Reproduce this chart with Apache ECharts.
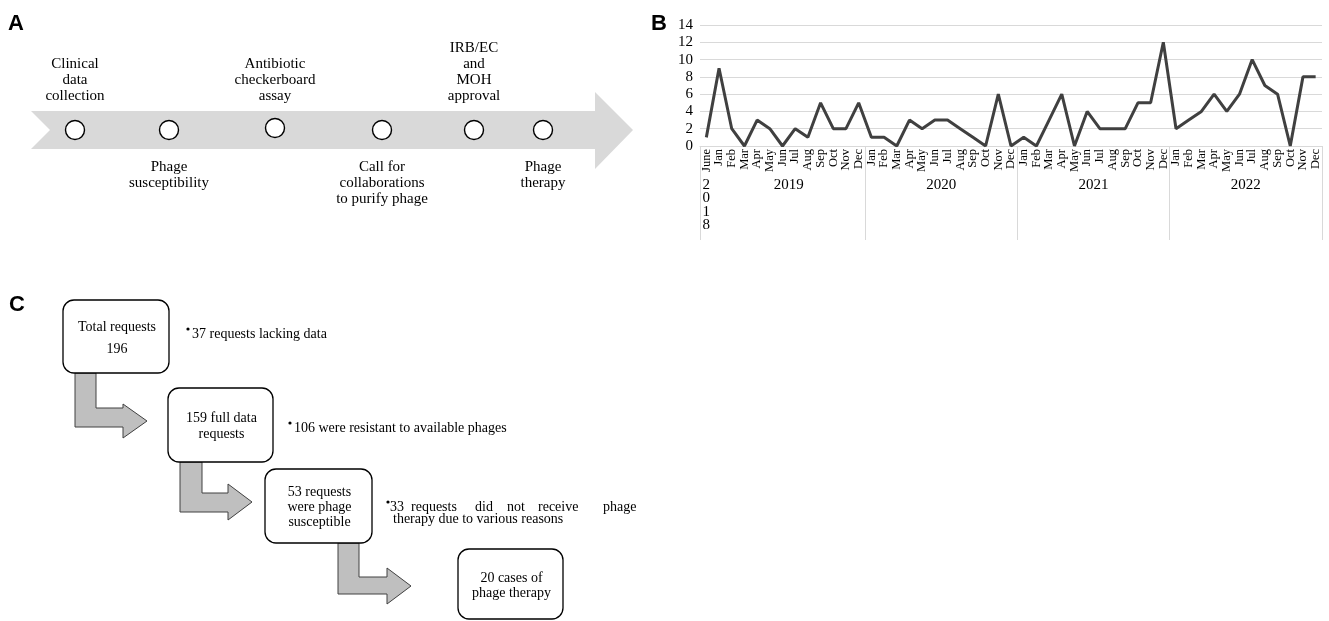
<!DOCTYPE html>
<html><head><meta charset="utf-8">
<script src="https://cdn.jsdelivr.net/npm/echarts@6/dist/echarts.min.js"></script>
<style>html,body{margin:0;padding:0;background:#fff}#c{width:1329px;height:621px}</style>
</head><body><div id="c"></div>
<script>
// ---- Data (panel B) ----
const monthLabels = ['June',
  'Jan','Feb','Mar','Apr','May','Jun','Jul','Aug','Sep','Oct','Nov','Dec',
  'Jan','Feb','Mar','Apr','May','Jun','Jul','Aug','Sep','Oct','Nov','Dec',
  'Jan','Feb','Mar','Apr','May','Jun','Jul','Aug','Sep','Oct','Nov','Dec',
  'Jan','Feb','Mar','Apr','May','Jun','Jul','Aug','Sep','Oct','Nov','Dec'];
const yearLabels = ['2018','2019','2020','2021','2022'];
const yearMonthCounts = [1, 12, 12, 12, 12];
const requests2018 = [1];
const requests2019 = [9,2,0,3,2,0,2,1,5,2,2,5];
const requests2020 = [1,1,0,3,2,3,3,2,1,0,6,0];
const requests2021 = [1,0,3,6,0,4,2,2,2,5,5,12];
const requests2022 = [2,3,4,6,4,6,10,7,6,0,8,8];
const yMax = 14, yInterval = 2;

// ---- Diagram texts (panels A and C) ----
const timelineAbove = [['Clinical','data','collection'], ['Antibiotic','checkerboard','assay'], ['IRB/EC','and','MOH','approval']];
const timelineBelow = [['Phage','susceptibility'], ['Call for','collaborations','to purify phage'], ['Phage','therapy']];
const flowBoxes = [['Total requests','196'], ['159 full data','requests'], ['53 requests','were phage','susceptible'], ['20 cases of','phage therapy']];
const flowNotes = ['37 requests lacking data', '106 were resistant to available phages'];
const flowNote3Words = ['33','requests','did','not','receive','phage'];
const flowNote3Line2 = 'therapy due to various reasons';

const requests = [].concat(requests2018, requests2019, requests2020, requests2021, requests2022);

// year group centres and boundaries in category units
const yearCenters = [], yearBounds = [-0.5];
let s = 0;
yearMonthCounts.forEach(n => { yearCenters.push(s + (n - 1) / 2); s += n; if (s > 1) yearBounds.push(s - 0.5); });

const SERIF = '"Liberation Serif","Times New Roman",serif';
const SANS = '"Liberation Sans",Arial,sans-serif';

function txt(x, y, t, size, align, font) {
  return { type: 'text', x: x, y: y, silent: true,
    style: { text: t, font: (size || 15) + 'px ' + (font || SERIF), fill: '#000',
      textAlign: align || 'center', textVerticalAlign: 'middle' } };
}

const g = [];
// panel labels
g.push({ type:'text', x: 8, y: 13, style:{ text:'A', font:'bold 22px ' + SANS, fill:'#000' }});
g.push({ type:'text', x: 651, y: 13, style:{ text:'B', font:'bold 22px ' + SANS, fill:'#000' }});
g.push({ type:'text', x: 9, y: 294, style:{ text:'C', font:'bold 22px ' + SANS, fill:'#000' }});

// Panel A arrow
g.push({ type:'polygon', silent:true, shape:{ points:[[31,111],[595,111],[595,92],[633,130],[595,169],[595,149],[31,149],[50,130]] },
  style:{ fill:'#d9d9d9' } });
const circleX = [75,169,275,382,474,543];
const circleY = [130,130,128,130,130,130];
circleX.forEach((cx,i) => g.push({ type:'circle', silent:true, shape:{ cx:cx, cy:circleY[i], r:9.5 }, style:{ fill:'#fff', stroke:'#000', lineWidth:1.4 } }));
const aboveX = [75,275,474];
timelineAbove.forEach((lines,i) => {
  const n = lines.length;
  lines.forEach((l,j) => g.push(txt(aboveX[i], 96 - (n-1-j)*16, l, 15)));
});
const belowX = [169,382,543];
timelineBelow.forEach((lines,i) => lines.forEach((l,j) => g.push(txt(belowX[i], 167 + j*16, l, 15))));

// Panel C arrows
const arrowStyle = { fill:'#bfbfbf', stroke:'#404040', lineWidth:1 };
g.push({ type:'polygon', silent:true, shape:{ points:[[75,373],[96,373],[96,408],[123,408],[123,404],[147,421],[123,438],[123,427],[75,427]] }, style: arrowStyle });
g.push({ type:'polygon', silent:true, shape:{ points:[[180,462],[202,462],[202,493],[228,493],[228,484],[252,502],[228,520],[228,512],[180,512]] }, style: arrowStyle });
g.push({ type:'polygon', silent:true, shape:{ points:[[338,543],[359,543],[359,577],[387,577],[387,568],[411,586],[387,604],[387,594],[338,594]] }, style: arrowStyle });

// Panel C boxes
const boxes = [[63,300,106,73],[168,388,105,74],[265,469,107,74],[458,549,105,70]];
const boxTextY = [[327,349],[418,434],[492,507,522],[578,593]];
boxes.forEach((b,i) => {
  g.push({ type:'rect', silent:true, shape:{ x:b[0], y:b[1], width:b[2], height:b[3], r:11 }, style:{ fill:'#fff', stroke:'#000', lineWidth:1.3 } });
  flowBoxes[i].forEach((l,j) => g.push(txt(b[0] + b[2]/2 + 1, boxTextY[i][j], l, 14)));
});
// bullet notes
function bullet(x, y) { g.push({ type:'circle', silent:true, shape:{ cx:x, cy:y, r:1.6 }, style:{ fill:'#000' } }); }
bullet(188, 329); g.push(txt(192, 334, flowNotes[0], 14, 'left'));
bullet(290, 423); g.push(txt(294, 428, flowNotes[1], 14, 'left'));
bullet(388, 502);
const w3x = [390, 411, 475, 507, 538, 603];
flowNote3Words.forEach((w,i) => g.push(txt(w3x[i], 507, w, 14, 'left')));
g.push(txt(393, 519, flowNote3Line2, 14, 'left'));

const chart = echarts.init(document.getElementById('c'), null, { renderer: 'canvas' });
chart.setOption({
  animation: false,
  backgroundColor: '#fff',
  grid: { left: 700, right: 7, top: 25, bottom: 475, containLabel: false, outerBoundsMode: 'none' },
  xAxis: [{
    type: 'category', data: monthLabels, boundaryGap: true,
    axisLine: { show: true, lineStyle: { color: '#d9d9d9', width: 1 } },
    axisTick: { show: false },
    axisLabel: { interval: 0, rotate: 90, margin: 3, fontSize: 12.5, fontFamily: SERIF, color: '#000' }
  }, {
    type: 'value', position: 'bottom', min: -0.5, max: 48.5,
    axisLine: { show: false }, splitLine: { show: false },
    axisTick: { show: true, customValues: yearBounds, length: 94, inside: false, lineStyle: { color: '#d9d9d9', width: 1 } },
    axisLabel: { customValues: yearCenters, margin: 32, fontSize: 15, fontFamily: SERIF, color: '#000', lineHeight: 13.5,
      formatter: v => { const i = yearCenters.findIndex(c => Math.abs(c - v) < 1e-6); if (i < 0) return ''; return yearMonthCounts[i] === 1 ? yearLabels[i].split('').join('\n') : yearLabels[i]; } }
  }],
  yAxis: {
    type: 'value', min: 0, max: yMax, interval: yInterval,
    axisLine: { show: false }, axisTick: { show: false },
    splitLine: { show: true, lineStyle: { color: '#d9d9d9', width: 1 } },
    axisLabel: { margin: 7, fontSize: 15, fontFamily: SERIF, color: '#000' }
  },
  series: [{ type: 'line', xAxisIndex: 0, data: requests, symbol: 'none', lineStyle: { color: '#404040', width: 3 } }],
  graphic: g
});
</script></body></html>
